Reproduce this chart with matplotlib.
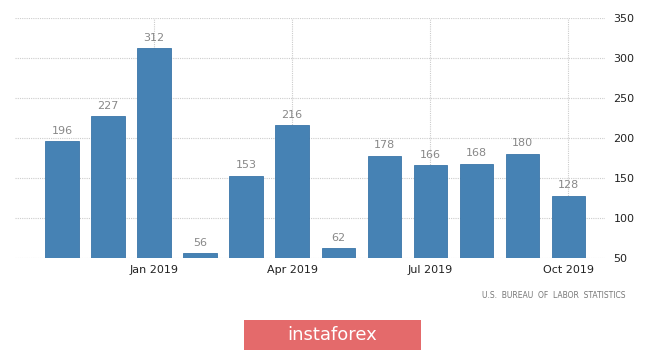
import matplotlib
matplotlib.use("Agg")
import matplotlib.pyplot as plt
from matplotlib.patches import FancyBboxPatch

months = ["Nov 2018", "Dec 2018", "Jan 2019", "Feb 2019", "Mar 2019", "Apr 2019",
          "May 2019", "Jun 2019", "Jul 2019", "Aug 2019", "Sep 2019", "Oct 2019"]
values = [196, 227, 312, 56, 153, 216, 62, 178, 166, 168, 180, 128]
tick_idx = [2, 5, 8, 11]
tick_labels = ["Jan 2019", "Apr 2019", "Jul 2019", "Oct 2019"]
yticks = [50, 100, 150, 200, 250, 300, 350]

W, H = 665, 351
fig = plt.figure(figsize=(W / 100, H / 100), dpi=100)
ax = fig.add_axes([15 / W, (H - 258) / H, (605 - 15) / W, (258 - 18) / H])

x = list(range(len(values)))
base = 50
ax.bar(x, [v - base for v in values], bottom=base, width=0.72, color="#4682b4",
       edgecolor="#3a75a8", linewidth=0.6, zorder=3)
for xi, v in zip(x, values):
    ax.text(xi, v + 7, str(v), ha="center", va="bottom", fontsize=8, color="#888888",
            family="Liberation Sans Narrow" if False else "DejaVu Sans", zorder=4)

ax.set_xlim(-1.02, 11.8)
ax.set_ylim(50, 350)
ax.set_xticks(tick_idx)
ax.set_xticklabels(tick_labels, fontsize=8, color="#222222")
ax.set_yticks(yticks)
ax.yaxis.tick_right()
ax.set_yticklabels([str(t) for t in yticks], fontsize=8, color="#222222")
ax.tick_params(axis="both", length=0, pad=5)
ax.tick_params(axis="y", pad=6)
ax.grid(True, color="#cccccc", linestyle=(0, (1, 1)), linewidth=0.8, zorder=0)
for s in ax.spines.values():
    s.set_visible(False)

fig.text(625 / W, 1 - 296 / H, "U.S.  BUREAU  OF  LABOR  STATISTICS",
         ha="right", va="center", fontsize=5.5, color="#777777")

box = FancyBboxPatch((244 / W, 1 - 350 / H), (421 - 244) / W, 30 / H,
                     boxstyle="square,pad=0", transform=fig.transFigure,
                     facecolor="#e46a6b", edgecolor="none")
fig.patches.append(box)
fig.text(332 / W, 1 - 335 / H, "instaforex", ha="center", va="center",
         fontsize=13, color="white")

fig.savefig("out.png", dpi=100)
